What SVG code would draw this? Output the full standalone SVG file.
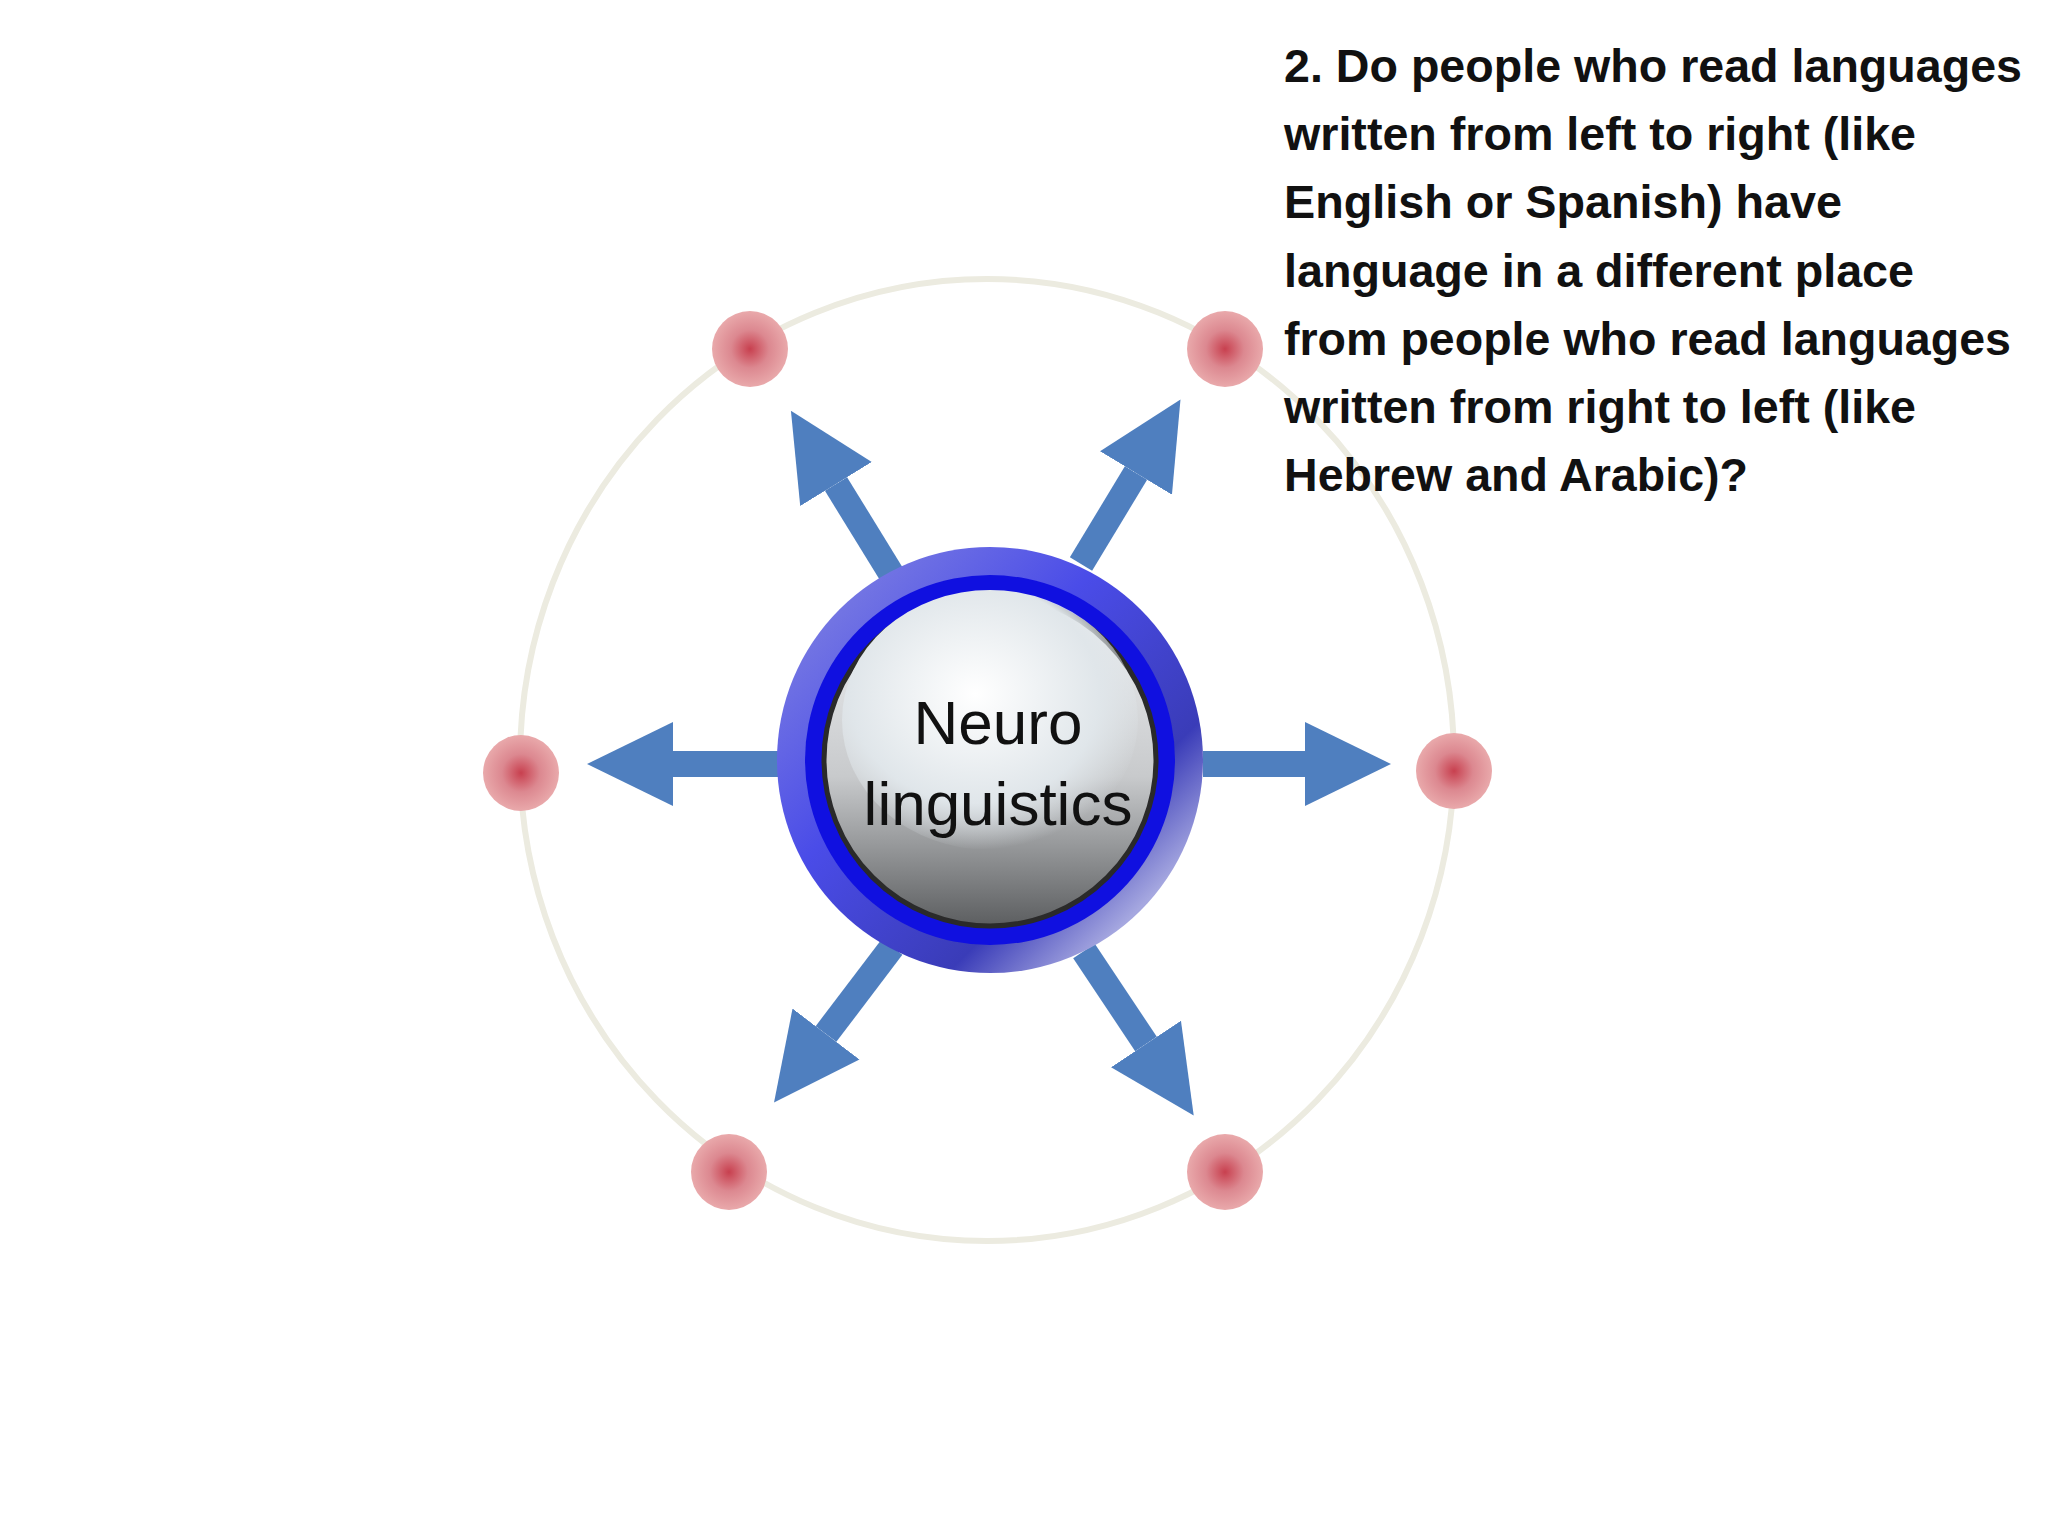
<svg xmlns="http://www.w3.org/2000/svg" width="2048" height="1536" viewBox="0 0 2048 1536">
<defs>
<style>
.dot{fill:url(#dotg)}
.arr{stroke:#4f7fbf;stroke-width:26;marker-end:url(#head)}
.q{font-family:"Liberation Sans Narrow","Liberation Sans",sans-serif;font-weight:bold;font-size:47px;fill:#111}
.c{font-family:"Liberation Sans Narrow","Liberation Sans",sans-serif;font-size:62px;fill:#111;text-anchor:middle}
</style>
<radialGradient id="dotg"><stop offset="0" stop-color="#c8404f"/><stop offset="0.5" stop-color="#dc8890"/><stop offset="1" stop-color="#e9a9ab"/></radialGradient>
<linearGradient id="ring" x1="0" y1="0" x2="1" y2="1"><stop offset="0" stop-color="#8a8ce0"/><stop offset="0.4" stop-color="#4a4ce8"/><stop offset="0.7" stop-color="#3a3cb8"/><stop offset="0.85" stop-color="#a6a8e0"/><stop offset="1" stop-color="#5a5cd0"/></linearGradient>
<linearGradient id="btn" x1="0" y1="0" x2="0" y2="1"><stop offset="0" stop-color="#f0f2f4"/><stop offset="0.55" stop-color="#c8cacc"/><stop offset="1" stop-color="#5c5e60"/></linearGradient>
<radialGradient id="hl" cx="0.45" cy="0.4" r="0.6"><stop offset="0" stop-color="#ffffff"/><stop offset="0.7" stop-color="#e0e6ea"/><stop offset="1" stop-color="#e0e6ea" stop-opacity="0"/></radialGradient>
<marker id="head" markerUnits="userSpaceOnUse" markerWidth="90" markerHeight="90" viewBox="0 -45 90 90" refX="0" refY="0" orient="auto"><path d="M0,-42 L86,0 L0,42 z" fill="#4f7fbf"/></marker>
</defs>
<rect width="2048" height="1536" fill="#fff"/>
<ellipse cx="987" cy="760" rx="467" ry="481" fill="none" stroke="#ecebe0" stroke-width="6"/>
<g id="connectors">
<line class="arr" x1="1203" y1="764" x2="1305" y2="764"/>
<line class="arr" x1="778" y1="764" x2="673" y2="764"/>
<line class="arr" x1="892" y1="575" x2="836" y2="484"/>
<line class="arr" x1="1081" y1="564" x2="1136" y2="473"/>
<line class="arr" x1="892" y1="947" x2="826" y2="1034"/>
<line class="arr" x1="1084" y1="951" x2="1146" y2="1044"/>
</g>
<g id="dots">
<circle class="dot" cx="750" cy="349" r="38"/>
<circle class="dot" cx="1225" cy="349" r="38"/>
<circle class="dot" cx="521" cy="773" r="38"/>
<circle class="dot" cx="1454" cy="771" r="38"/>
<circle class="dot" cx="729" cy="1172" r="38"/>
<circle class="dot" cx="1225" cy="1172" r="38"/>
</g>
<g id="center">
<circle cx="990" cy="760" r="213" fill="url(#ring)"/>
<circle cx="990" cy="760" r="185" fill="#1010e0"/>
<circle cx="990" cy="760" r="166" fill="url(#btn)" stroke="#2a2a2a" stroke-width="5"/>
<ellipse cx="990" cy="720" rx="148" ry="130" fill="url(#hl)"/>
<text class="c" x="998" y="744">Neuro</text>
<text class="c" x="998" y="825">linguistics</text>
</g>
<g id="question">
<text class="q" x="1284" y="82" textLength="738" lengthAdjust="spacingAndGlyphs">2. Do people who read languages</text>
<text class="q" x="1284" y="150" textLength="632" lengthAdjust="spacingAndGlyphs">written from left to right (like</text>
<text class="q" x="1284" y="218" textLength="558" lengthAdjust="spacingAndGlyphs">English or Spanish) have</text>
<text class="q" x="1284" y="287" textLength="630" lengthAdjust="spacingAndGlyphs">language in a different place</text>
<text class="q" x="1284" y="355" textLength="727" lengthAdjust="spacingAndGlyphs">from people who read languages</text>
<text class="q" x="1284" y="423" textLength="632" lengthAdjust="spacingAndGlyphs">written from right to left (like</text>
<text class="q" x="1284" y="491" textLength="464" lengthAdjust="spacingAndGlyphs">Hebrew and Arabic)?</text>
</g>
</svg>
